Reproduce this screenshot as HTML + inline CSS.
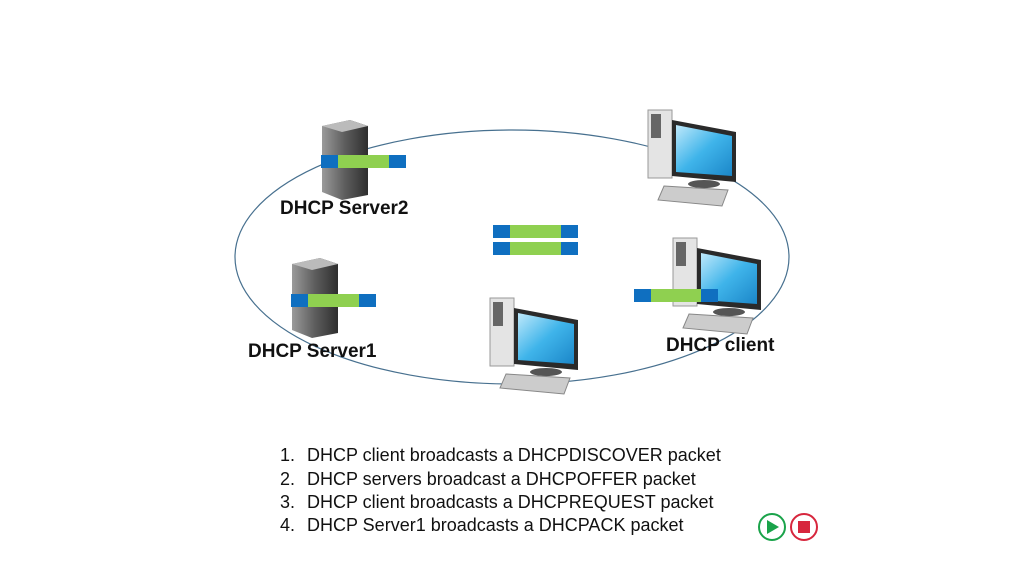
<!DOCTYPE html>
<html><head><meta charset="utf-8"><style>
html,body{margin:0;padding:0;background:#fff;width:1024px;height:574px;overflow:hidden}
svg{display:block}
text{font-family:"Liberation Sans",sans-serif}
</style></head><body>
<svg width="1024" height="574" viewBox="0 0 1024 574">
<defs>
<linearGradient id="srv" x1="0" x2="1"><stop offset="0" stop-color="#9a9a9a"/><stop offset=".5" stop-color="#5d5d5d"/><stop offset="1" stop-color="#2e2e2e"/></linearGradient>
<linearGradient id="scr" x1="0" y1="0" x2="1" y2="1"><stop offset="0" stop-color="#bfe9fb"/><stop offset=".5" stop-color="#3fb4ea"/><stop offset="1" stop-color="#1b86c8"/></linearGradient>
<g id="pc">
<rect x="0" y="0" width="24" height="68" fill="#e4e4e4" stroke="#999"/>
<rect x="3" y="4" width="10" height="24" fill="#666"/>
<polygon points="24,10 88,22 88,72 24,66" fill="#2a2a2a"/>
<polygon points="28,15 84,26 84,66 28,62" fill="url(#scr)"/>
<ellipse cx="56" cy="74" rx="16" ry="4" fill="#555"/>
<polygon points="16,76 80,80 74,96 10,90" fill="#ccc" stroke="#888"/>
</g>
<g id="srvr">
<polygon points="0,6 28,0 46,6 46,75 20,80 0,72" fill="url(#srv)"/>
<polygon points="0,6 28,0 46,6 20,12" fill="#bbb"/>
</g>
</defs>
<ellipse cx="512" cy="257" rx="277" ry="127" fill="none" stroke="#47708f" stroke-width="1.2"/>
<use href="#srvr" x="322" y="120"/>
<use href="#srvr" x="292" y="258"/>
<use href="#pc" x="648" y="110"/>
<use href="#pc" x="673" y="238"/>
<use href="#pc" x="490" y="298"/>
<g>
<rect x="321" y="155" width="17" height="13" fill="#0f6fc0"/><rect x="338" y="155" width="51" height="13" fill="#8fd050"/><rect x="389" y="155" width="17" height="13" fill="#0f6fc0"/>
<rect x="291" y="294" width="17" height="13" fill="#0f6fc0"/><rect x="308" y="294" width="51" height="13" fill="#8fd050"/><rect x="359" y="294" width="17" height="13" fill="#0f6fc0"/>
<rect x="493" y="225" width="17" height="13" fill="#0f6fc0"/><rect x="510" y="225" width="51" height="13" fill="#8fd050"/><rect x="561" y="225" width="17" height="13" fill="#0f6fc0"/>
<rect x="493" y="242" width="17" height="13" fill="#0f6fc0"/><rect x="510" y="242" width="51" height="13" fill="#8fd050"/><rect x="561" y="242" width="17" height="13" fill="#0f6fc0"/>
<rect x="634" y="289" width="17" height="13" fill="#0f6fc0"/><rect x="651" y="289" width="50" height="13" fill="#8fd050"/><rect x="701" y="289" width="17" height="13" fill="#0f6fc0"/>
</g>
<g font-weight="bold" font-size="19" fill="#111">
<text x="280" y="214">DHCP Server2</text>
<text x="248" y="357">DHCP Server1</text>
<text x="666" y="351">DHCP client</text>
</g>
<g font-size="18" fill="#111">
<text x="280" y="461">1.</text><text x="307" y="461">DHCP client broadcasts a DHCPDISCOVER packet</text>
<text x="280" y="485">2.</text><text x="307" y="485">DHCP servers broadcast a DHCPOFFER packet</text>
<text x="280" y="508">3.</text><text x="307" y="508">DHCP client broadcasts a DHCPREQUEST packet</text>
<text x="280" y="531">4.</text><text x="307" y="531">DHCP Server1 broadcasts a DHCPACK packet</text>
</g>
<circle cx="772" cy="527" r="13" fill="#fff" stroke="#1aa34a" stroke-width="2"/>
<polygon points="767,520 767,534 779,527" fill="#1aa34a"/>
<circle cx="804" cy="527" r="13" fill="#fff" stroke="#d7263d" stroke-width="2"/>
<rect x="798" y="521" width="12" height="12" fill="#d7263d"/>
</svg>
</body></html>
